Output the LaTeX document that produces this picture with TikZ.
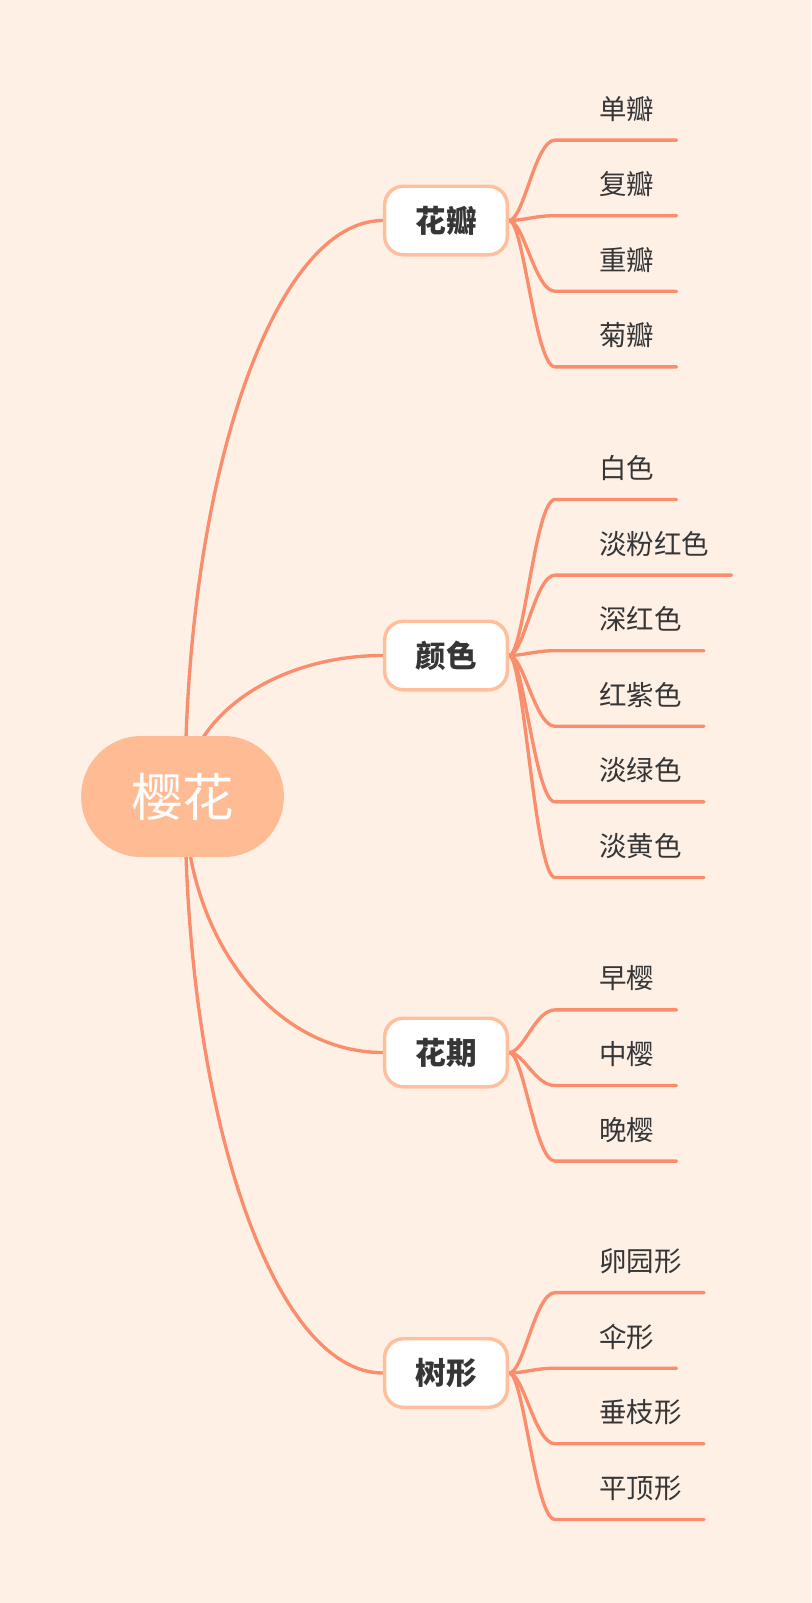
\documentclass[tikz,border=0pt]{standalone}
\usepackage{fontspec}
\setmainfont{Noto Sans CJK SC}
\usetikzlibrary{
calc,
backgrounds,
positioning
}
\definecolor{bgpeach}{HTML}{FFF0E6}
\definecolor{rootfill}{HTML}{FFBB94}
\definecolor{boxline}{HTML}{FFBF9C}
\definecolor{linkline}{HTML}{F98D6C}
\definecolor{inkgray}{HTML}{363636}
\tikzset{
  root/.style={fill=rootfill, text=white, rounded corners=45pt, minimum width=152pt, minimum height=90.75pt, font=\fontsize{38.6pt}{44pt}\selectfont},
  topic/.style={draw=boxline, line width=2.6pt, fill=white, rounded corners=14pt, minimum width=92pt, minimum height=51.4pt, text=inkgray, font=\fontsize{23pt}{27pt}\selectfont\bfseries},
  leaf/.style={inner sep=0pt, anchor=base west, text=inkgray, font=\fontsize{20.6pt}{24pt}\selectfont},
  link/.style={draw=linkline, line width=2.5pt, line cap=round}
}

\begin{document}
\begin{tikzpicture}[x=0.75pt, y=-0.75pt]
		\node[root] (root) at (182.5,796.5) {樱花};
		\coordinate (hub) at (185,796.5);
		\node[topic] (petal) at (446,220.5) {花瓣};
		\node[topic] (colour) at (446,655.5) {颜色};
		\node[topic] (bloom) at (446,1052.5) {花期};
		\node[topic] (crown) at (446,1373) {树形};
		
		% leaves: line start, then text above the line
		\foreach \txt [count=\i] in {单瓣,复瓣,重瓣,菊瓣} {
			\coordinate (petal-s\i) at ($(petal.east)+(46,{(\i-2.5)*75.6+33})$);
			\node[leaf] (petal-\i) at ($(petal-s\i)+(44,-21)$) {\txt};
		}
		\foreach \txt [count=\i] in {白色,淡粉红色,深红色,红紫色,淡绿色,淡黄色} {
			\coordinate (colour-s\i) at ($(colour.east)+(46,{(\i-3.5)*75.6+33})$);
			\node[leaf] (colour-\i) at ($(colour-s\i)+(44,-21)$) {\txt};
		}
		\foreach \txt [count=\i] in {早樱,中樱,晚樱} {
			\coordinate (bloom-s\i) at ($(bloom.east)+(46,{(\i-2)*75.6+33})$);
			\node[leaf] (bloom-\i) at ($(bloom-s\i)+(44,-21)$) {\txt};
		}
		\foreach \txt [count=\i] in {卵园形,伞形,垂枝形,平顶形} {
			\coordinate (crown-s\i) at ($(crown.east)+(46,{(\i-2.5)*75.6+33})$);
			\node[leaf] (crown-\i) at ($(crown-s\i)+(44,-21)$) {\txt};
		}
		
		\begin{scope}[on background layer]
			\fill[bgpeach] (0,0) rectangle (811,1603);
			\foreach \b in {petal,colour,bloom,crown}
				\draw[link] (hub) .. controls ($(hub)!0.552!(hub |- \b.west)$) and ($(\b.west)!0.552!(hub |- \b.west)$) .. (\b.west);
			\foreach \b/\n in {petal/4,colour/6,bloom/3,crown/4}
				\foreach \i in {1,...,\n}
					\draw[link] (\b.east) to[out=0, in=180, out distance=11pt, in distance=15pt] (\b-s\i) -- ([xshift=16.5pt]\b-\i.base east |- \b-s\i);
		\end{scope}
	\end{tikzpicture}
\end{document}
